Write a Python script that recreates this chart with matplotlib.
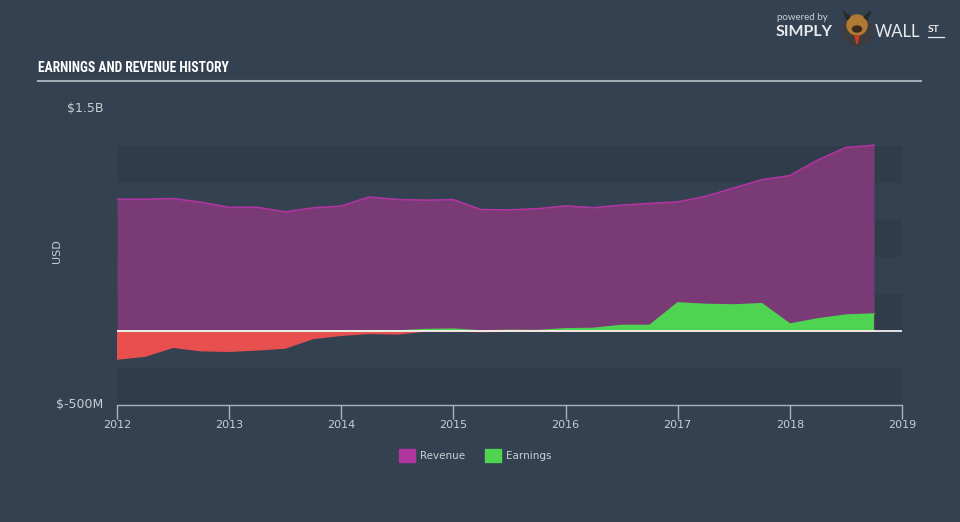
import matplotlib
matplotlib.use("Agg")
import matplotlib.pyplot as plt
from matplotlib import font_manager
from matplotlib.patches import Rectangle, Ellipse, Polygon
import numpy as np

# ---- data (values in $B, x in decimal years) ----
quarters = [2012.0, 2012.25, 2012.5, 2012.75, 2013.0, 2013.25, 2013.5, 2013.75,
            2014.0, 2014.25, 2014.5, 2014.75, 2015.0, 2015.25, 2015.5, 2015.75,
            2016.0, 2016.25, 2016.5, 2016.75, 2017.0, 2017.25, 2017.5, 2017.75,
            2018.0, 2018.25, 2018.5, 2018.75]
revenue = [0.89, 0.89, 0.895, 0.87, 0.835, 0.836, 0.805, 0.832,
           0.845, 0.905, 0.888, 0.884, 0.887, 0.82, 0.818, 0.826,
           0.845, 0.833, 0.85, 0.862, 0.872, 0.91, 0.966, 1.022,
           1.05, 1.155, 1.24, 1.255]
earnings = [-0.19, -0.17, -0.11, -0.133, -0.137, -0.128, -0.115, -0.05,
            -0.029, -0.016, -0.02, 0.01, 0.013, -0.004, 0.005, 0.003,
            0.015, 0.018, 0.038, 0.038, 0.19, 0.18, 0.176, 0.185,
            0.047, 0.082, 0.108, 0.115]
year_ticks = [2012, 2013, 2014, 2015, 2016, 2017, 2018, 2019]
y_labels = ["$1.5B", "$-500M"]
legend_names = ["Revenue", "Earnings"]

BG = "#344151"
BAND = "#303c4b"
REV_FILL = "#7a3a76"
REV_LINE = "#b0359f"
EARN_POS = "#4fd451"
EARN_NEG = "#e84f4f"
TXT = "#c9ced4"

avail = {f.name for f in font_manager.fontManager.ttflist}
title_font = "DejaVu Sans"
for cand in ["Roboto Condensed", "Open Sans Condensed", "Liberation Sans Narrow", "Arial Narrow"]:
    if cand in avail:
        title_font = cand
        break
body_font = "DejaVu Sans"

fig = plt.figure(figsize=(9.6, 5.22), dpi=100, facecolor=BG)
ax = fig.add_axes([117/960, 1-405/522, (902-117)/960, (405-109)/522])
ax.set_facecolor(BG)
ax.set_xlim(2012, 2019)
ax.set_ylim(-0.5, 1.5)

# bands
for lo in [-0.5, 0.0, 0.5, 1.0]:
    ax.axhspan(lo, lo+0.25, color=BAND, zorder=0, lw=0)

x = np.array(quarters)
rev = np.array(revenue)
earn = np.array(earnings)

ax.fill_between(x, 0, rev, color=REV_FILL, lw=0, zorder=2)
ax.plot(x, rev, color=REV_LINE, lw=1.2, zorder=3)

ax.fill_between(x, 0, earn, where=earn >= 0, interpolate=True, color=EARN_POS, lw=0, zorder=4)
ax.fill_between(x, 0, earn, where=earn <= 0, interpolate=True, color=EARN_NEG, lw=0, zorder=4)
ax.plot(x, np.maximum(earn, 0), color=EARN_POS, lw=1.0, zorder=5)
ax.plot(x, np.minimum(earn, 0), color=EARN_NEG, lw=1.0, zorder=5)

ax.axhline(0, color="white", lw=1.2, zorder=6)

for s in ["top", "right", "left"]:
    ax.spines[s].set_visible(False)
ax.spines["bottom"].set_color("#aab3bd")
ax.spines["bottom"].set_linewidth(1.0)
ax.set_xticks(year_ticks)
ax.set_xticklabels([str(y) for y in year_ticks], fontsize=8, color=TXT, family=body_font)
ax.tick_params(axis="x", colors="#aab3bd", length=10, width=1.0, pad=1, labelcolor=TXT)
ax.set_yticks([])

# y labels
fig.text(103/960, 1-108/522, y_labels[0], ha="right", va="center", fontsize=9, color=TXT, family=body_font)
fig.text(103/960, 1-404/522, y_labels[1], ha="right", va="center", fontsize=9, color=TXT, family=body_font)
fig.text(57/960, 1-251/522, "USD", ha="center", va="center", rotation=90, fontsize=8, color=TXT, family=body_font)

# title and rule (fit width to ~192 px)
title = fig.text(38/960, 1-68/522, "EARNINGS AND REVENUE HISTORY", ha="left", va="center",
                 fontsize=12, fontweight="bold", fontstretch="condensed", color="white", family=title_font)
renderer = fig.canvas.get_renderer()
w = title.get_window_extent(renderer).width
title.set_fontsize(12 * 192.0 / w)
fig.add_artist(plt.Line2D([38/960, 921/960], [1-81/522, 1-81/522], color="#a3abb4", lw=1.5,
                          transform=fig.transFigure))

# legend
lx = [399, 485]
cols = [REV_LINE, EARN_POS]
for px, name, c in zip(lx, legend_names, cols):
    fig.add_artist(Rectangle((px/960, 1-462/522), 16/960, 13/522, color=c, transform=fig.transFigure))
    fig.text((px+21)/960, 1-456/522, name, ha="left", va="center", fontsize=7.5, color=TXT, family=body_font)

# logo
def fx(px):
    return px/960
def fy(py):
    return 1-py/522
fig.text(fx(777), fy(18), "powered by", ha="left", va="center", fontsize=7, color="#c9ced4", family="Lato")
fig.text(fx(776), fy(32), "SIMPLY", ha="left", va="center", fontsize=11.5, fontweight="bold", color="#e8eaed", family="Lato")
fig.add_artist(Ellipse((fx(857), fy(31)), 30/960, 30/522, color="#3d3d3f", transform=fig.transFigure))
fig.add_artist(Ellipse((fx(857), fy(25)), 20/960, 20/522, color="#b07a35", transform=fig.transFigure))
fig.add_artist(Polygon([(fx(847), fy(20)), (fx(843), fy(11)), (fx(850), fy(17))], color="#2a2a2a", transform=fig.transFigure))
fig.add_artist(Polygon([(fx(867), fy(20)), (fx(871), fy(11)), (fx(864), fy(17))], color="#2a2a2a", transform=fig.transFigure))
fig.add_artist(Ellipse((fx(857), fy(29)), 9/960, 6/522, color="#3a2a1a", transform=fig.transFigure))
fig.add_artist(Polygon([(fx(855), fy(36)), (fx(859), fy(36)), (fx(857), fy(44))], color="#d23a1c", transform=fig.transFigure))
fig.text(fx(875), fy(32), "WALL", ha="left", va="center", fontsize=12, color="#e8eaed", family="Lato")
fig.text(fx(928), fy(29), "ST", ha="left", va="center", fontsize=7.5, fontweight="bold", color="#e8eaed", family="Lato")
fig.add_artist(plt.Line2D([fx(928), fx(944)], [fy(37), fy(37)], color="#e8eaed", lw=0.9,
                          transform=fig.transFigure))

fig.savefig("out.png", dpi=100, facecolor=BG)
